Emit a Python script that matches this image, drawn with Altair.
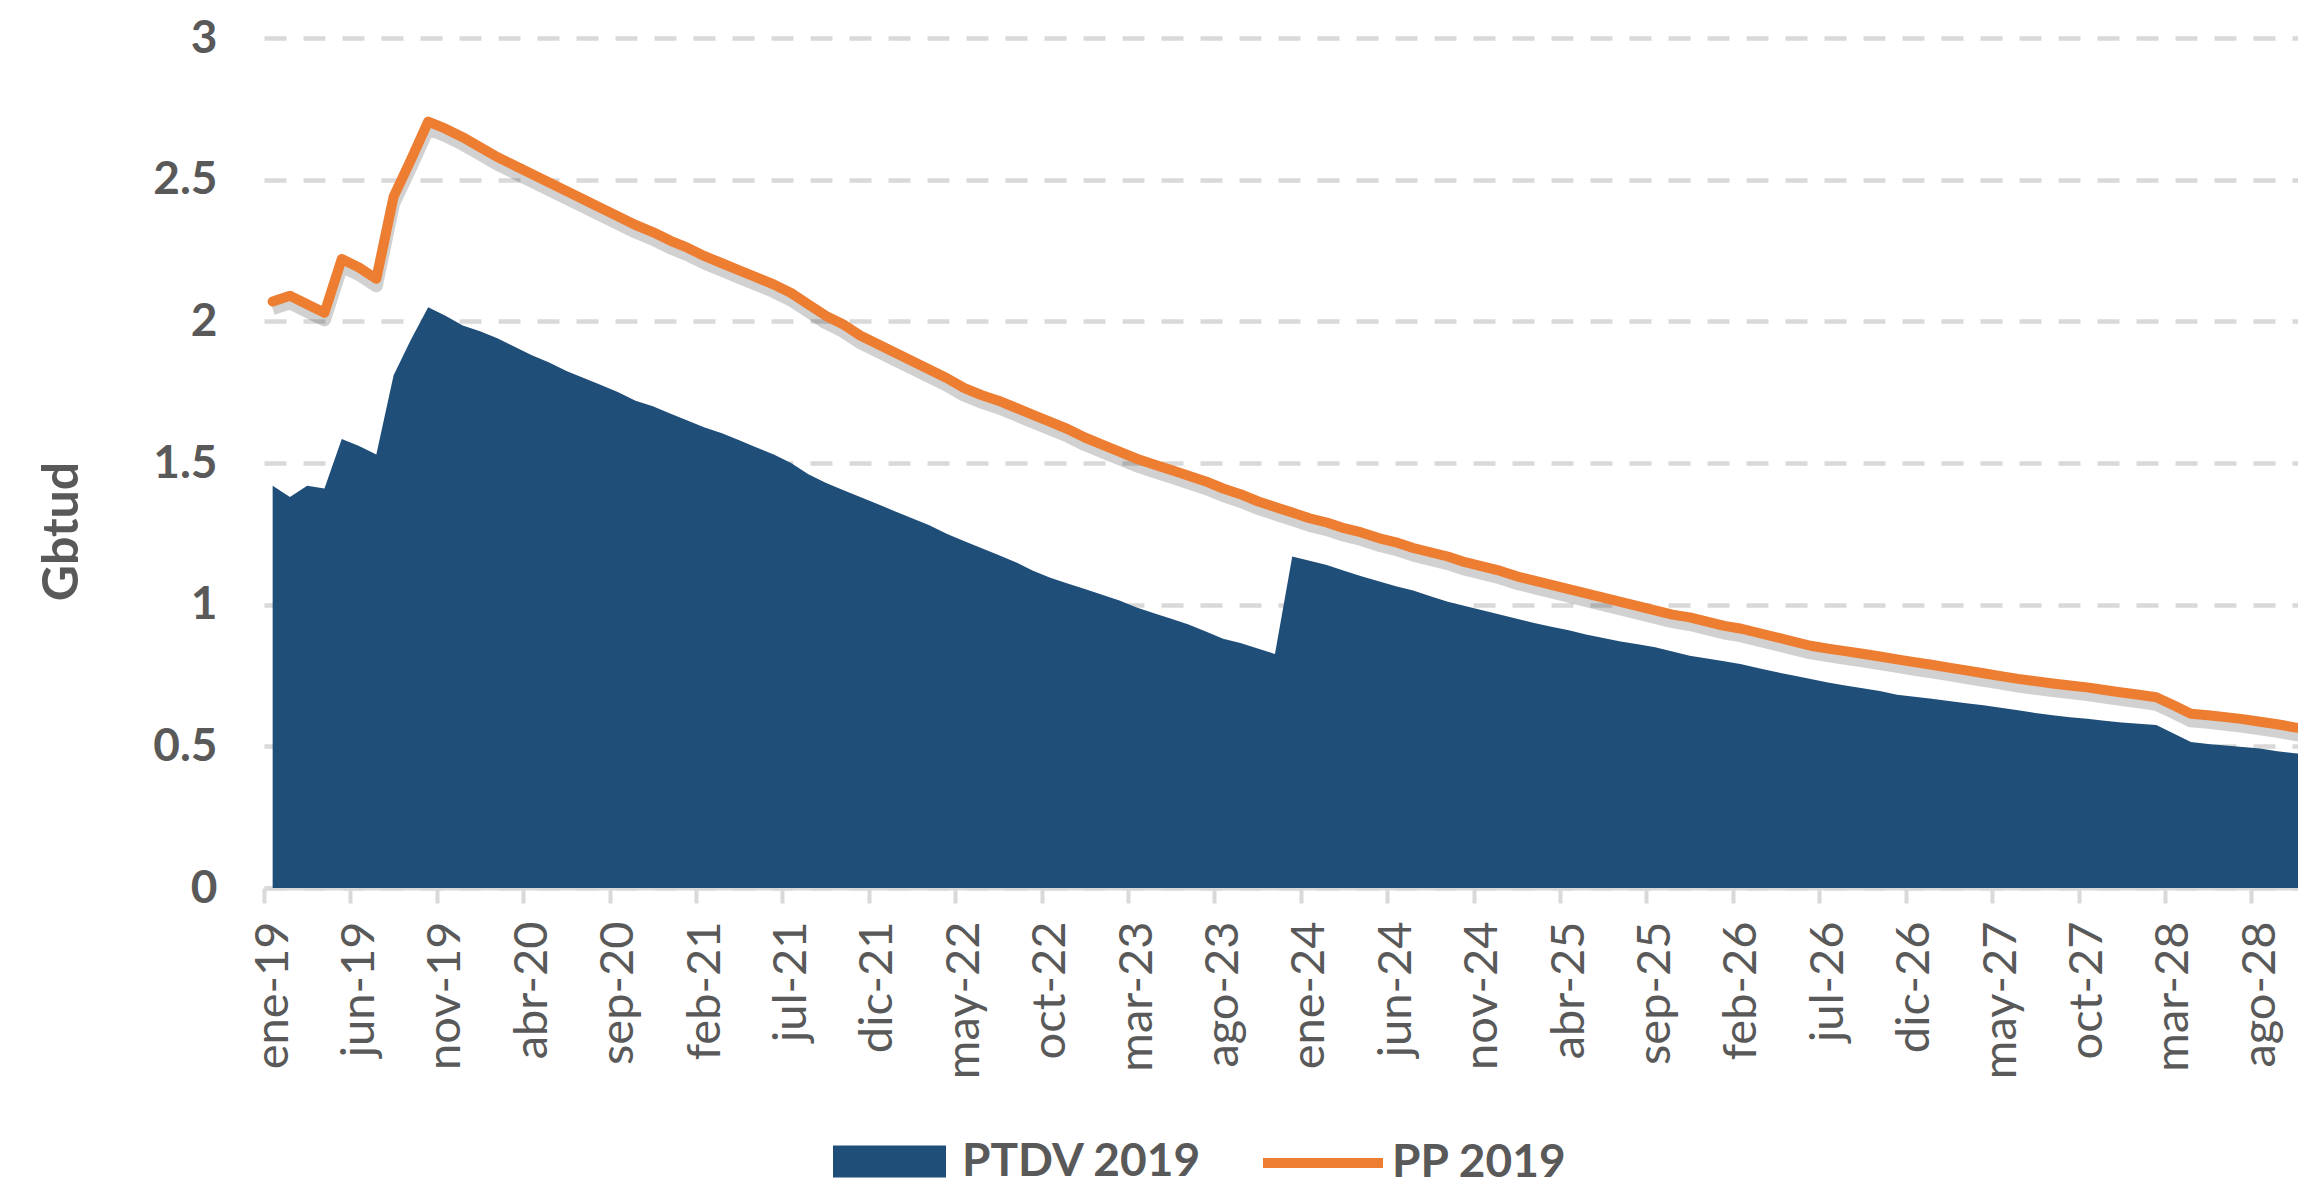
import altair as alt
import pandas as pd

tick_labels = ["ene-19", "jun-19", "nov-19", "abr-20", "sep-20", "feb-21", "jul-21", "dic-21",
               "may-22", "oct-22", "mar-23", "ago-23", "ene-24", "jun-24", "nov-24", "abr-25",
               "sep-25", "feb-26", "jul-26", "dic-26", "may-27", "oct-27", "mar-28", "ago-28"]

ptdv_2019 = [
    1.42, 1.38, 1.42, 1.41, 1.585, 1.56, 1.53, 1.81, 1.935, 2.05,
    2.02, 1.985, 1.965, 1.94, 1.91, 1.88, 1.855, 1.825, 1.80, 1.775,
    1.75, 1.72, 1.70, 1.675, 1.65, 1.625, 1.605, 1.58, 1.555, 1.53,
    1.50, 1.46, 1.43, 1.405, 1.38, 1.355, 1.33, 1.305, 1.28, 1.25,
    1.225, 1.20, 1.175, 1.15, 1.12, 1.095, 1.075, 1.055, 1.035, 1.015,
    0.99, 0.97, 0.95, 0.93, 0.905, 0.88, 0.865, 0.845, 0.826, 1.17,
    1.155, 1.14, 1.12, 1.10, 1.083, 1.065, 1.05, 1.03, 1.01, 0.995,
    0.98, 0.965, 0.95, 0.935, 0.922, 0.91, 0.895, 0.882, 0.87, 0.86,
    0.85, 0.835, 0.82, 0.81, 0.80, 0.79, 0.776, 0.762, 0.75, 0.738,
    0.725, 0.715, 0.705, 0.695, 0.682, 0.675, 0.668, 0.66, 0.652, 0.645,
    0.636, 0.627, 0.618, 0.61, 0.603, 0.597, 0.59, 0.584, 0.58, 0.575,
    0.545, 0.515, 0.508, 0.503, 0.498, 0.492, 0.483, 0.476, 0.47,
]

pp_2019 = [
    2.07, 2.09, 2.06, 2.03, 2.22, 2.19, 2.15, 2.44, 2.57, 2.705,
    2.68, 2.65, 2.615, 2.58, 2.55, 2.52, 2.49, 2.46, 2.43, 2.40,
    2.37, 2.34, 2.315, 2.285, 2.26, 2.23, 2.205, 2.18, 2.155, 2.13,
    2.10, 2.06, 2.02, 1.99, 1.95, 1.92, 1.89, 1.86, 1.83, 1.80,
    1.765, 1.74, 1.72, 1.695, 1.67, 1.645, 1.62, 1.59, 1.565, 1.54,
    1.515, 1.495, 1.475, 1.455, 1.435, 1.41, 1.39, 1.365, 1.345, 1.325,
    1.305, 1.29, 1.27, 1.255, 1.235, 1.22, 1.20, 1.185, 1.17, 1.15,
    1.135, 1.12, 1.10, 1.085, 1.07, 1.055, 1.04, 1.025, 1.01, 0.995,
    0.98, 0.965, 0.955, 0.94, 0.925, 0.915, 0.90, 0.885, 0.87, 0.855,
    0.845, 0.836, 0.827, 0.817, 0.807, 0.797, 0.788, 0.778, 0.768, 0.758,
    0.748, 0.738, 0.73, 0.722, 0.715, 0.708, 0.699, 0.69, 0.682, 0.673,
    0.645, 0.615, 0.61, 0.603, 0.596, 0.587, 0.578, 0.567, 0.56,
]

series_names = ["PTDV 2019", "PP 2019"]
colors = ["#1F4E79", "#ED7D31"]
y_ticks = [0, 0.5, 1, 1.5, 2, 2.5, 3]

df = pd.DataFrame({
    "m": list(range(len(ptdv_2019))),
    "ptdv": ptdv_2019,
    "pp": pp_2019,
    "s1": series_names[0],
    "s2": series_names[1],
})

GRAY = "#595959"
LIGHT = "#d9d9d9"
FONT = "Lato"

labels_js = "[" + ",".join("'%s'" % t for t in tick_labels) + "]"
tick_values = [-0.5 + 5 * k for k in range(len(tick_labels))]

x_enc = alt.X(
    "m:Q",
    scale=alt.Scale(domain=[-0.5, 117.2], nice=False, zero=False),
    axis=alt.Axis(
        values=tick_values,
        labelExpr=labels_js + "[round((datum.value + 0.5) / 5)]",
        labelAngle=270,
        labelFont=FONT,
        labelFontSize=47,
        labelColor=GRAY,
        labelPadding=18,
        labelOffset=9,
        labelFlush=False,
        labelOverlap=False,
        labelBound=False,
        ticks=True,
        tickSize=15,
        tickWidth=4,
        tickColor=LIGHT,
        domain=True,
        domainColor=LIGHT,
        domainWidth=4,
        grid=False,
        title=None,
    ),
)

y_enc = alt.Y(
    "ptdv:Q",
    scale=alt.Scale(domain=[0, 3], nice=False),
    axis=alt.Axis(
        values=y_ticks,
        format="~g",
        labelFont=FONT,
        labelFontWeight="bold",
        labelFontSize=46,
        labelColor=GRAY,
        labelPadding=47,
        ticks=False,
        domain=False,
        grid=True,
        gridColor=LIGHT,
        gridWidth=4.5,
        gridDash=[22, 17],
        title="Gbtud",
        titleFont=FONT,
        titleFontWeight="bold",
        titleFontSize=50,
        titleColor=GRAY,
        titleAngle=270,
        titleX=-187,
        titleY=493,
        titleAlign="center",
        titleBaseline="alphabetic",
    ),
)

area = alt.Chart(df).mark_area(clip=True, opacity=1).encode(
    x=x_enc,
    y=y_enc,
    fill=alt.Fill(
        "s1:N",
        scale=alt.Scale(domain=[series_names[0]], range=[colors[0]]),
        legend=alt.Legend(
            title=None,
            orient="none",
            legendX=569,
            legendY=1067,
            symbolType="M-1,-0.283L1,-0.283L1,0.283L-1,0.283Z",
            symbolSize=12769,
            symbolStrokeWidth=0,
            symbolOpacity=1,
            labelFont=FONT,
            labelFontWeight="bold",
            labelFontSize=46,
            labelColor=GRAY,
            labelOffset=16,
            labelLimit=0,
            padding=0,
        ),
    ),
)

shadow = alt.Chart(df).transform_calculate(
    pps="datum.pp - 0.025"
).mark_line(clip=True, color="#000000", opacity=0.18, strokeWidth=13, strokeJoin="round").encode(
    x=alt.X("m:Q"),
    y=alt.Y("pps:Q"),
)

line = alt.Chart(df).mark_line(clip=True, strokeWidth=10, strokeJoin="round", strokeCap="round").encode(
    x=alt.X("m:Q"),
    y=alt.Y("pp:Q"),
    stroke=alt.Stroke(
        "s2:N",
        scale=alt.Scale(domain=[series_names[1]], range=[colors[1]]),
        legend=alt.Legend(
            title=None,
            orient="none",
            legendX=994,
            legendY=1060,
            symbolType="stroke",
            symbolSize=14400,
            symbolStrokeWidth=10,
            labelFont=FONT,
            labelFontWeight="bold",
            labelFontSize=46,
            labelColor=GRAY,
            labelOffset=4,
            labelLimit=0,
            padding=0,
        ),
    ),
)

chart = alt.layer(area, shadow, line).resolve_legend(fill="independent", stroke="independent").properties(
    width=2034,
    height=850,
    autosize=alt.AutoSizeParams(type="none"),
    padding={"left": 256, "top": 30, "right": 0, "bottom": 301},
    background="white",
).configure_view(stroke=None)

chart.save("out.html", embed_options={"renderer": "svg", "actions": False})
